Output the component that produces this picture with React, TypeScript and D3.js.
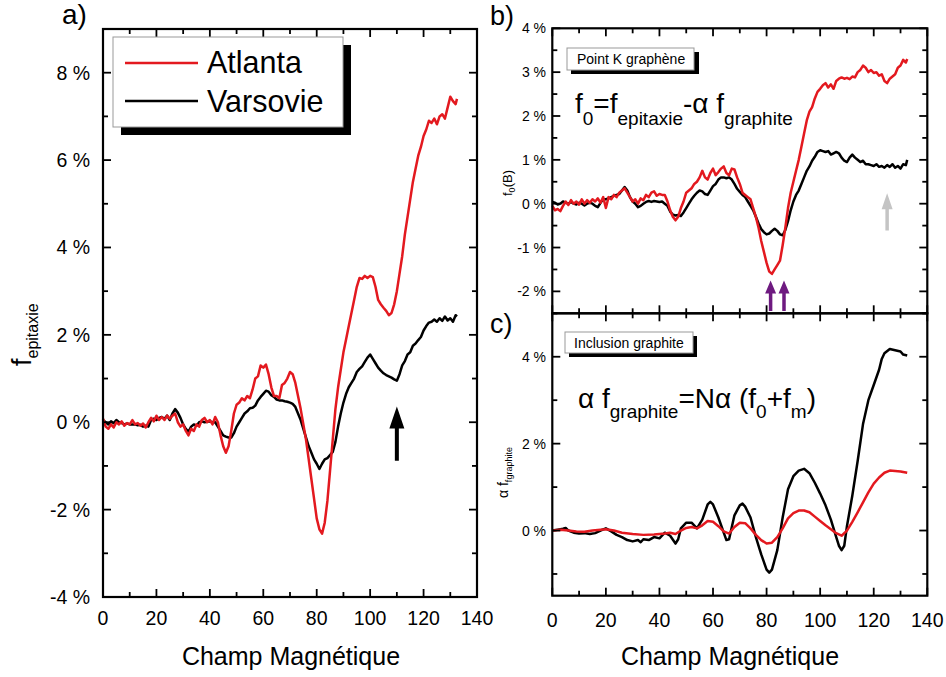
import React from 'react';
import * as d3 from 'd3';

type P = [number, number];

const xTickLabels = [0, 20, 40, 60, 80, 100, 120, 140];
const yTicksA = [-4, -2, 0, 2, 4, 6, 8];
const yTicksB = [-2, -1, 0, 1, 2, 3, 4];
const yTicksC = [0, 2, 4];

const seriesNames = ['Atlanta', 'Varsovie'];

const atlantaA: P[] = [[0,0.08],[1,-0.1],[2,-0.15],[3,-0.05],[4,-0.12],[5,0.0],[6,-0.05],[7,0.02],[8,-0.08],[9,-0.02],[10,-0.05],[11,0.05],[12,-0.05],[13,-0.02],[14,-0.08],[15,-0.03],[16,-0.12],[17,0.0],[18,0.1],[19,0.02],[20,0.15],[21,0.05],[22,0.12],[23,0.05],[24,0.15],[25,0.08],[26,0.15],[27,0.2],[28,0.0],[29,-0.1],[30,-0.05],[31,-0.2],[32,-0.3],[33,-0.15],[34,-0.2],[35,-0.05],[36,-0.1],[37,0.05],[38,0.1],[39,0.0],[40,0.05],[41,-0.05],[42,0.12],[43,0.0],[44,-0.3],[45,-0.55],[46,-0.7],[47,-0.55],[48,-0.2],[49,0.2],[50,0.4],[51,0.45],[52,0.55],[53,0.5],[54,0.6],[55,0.55],[56,0.75],[57,1.0],[58,1.05],[59,1.3],[60,1.25],[61,1.32],[62,1.1],[63,0.8],[64,0.6],[65,0.6],[66,0.55],[67,0.85],[68,0.9],[69,1.0],[70,1.15],[71,1.1],[72,0.9],[73,0.6],[74,0.3],[75,-0.05],[76,-0.4],[77,-0.85],[78,-1.3],[79,-1.75],[80,-2.2],[81,-2.45],[82,-2.55],[83,-2.3],[84,-1.8],[85,-1.1],[86,-0.4],[87,0.3],[88,0.8],[89,1.2],[90,1.6],[91,1.9],[92,2.2],[93,2.5],[94,2.8],[95,3.1],[96,3.3],[97,3.28],[98,3.35],[99,3.3],[100,3.35],[101,3.32],[102,3.1],[103,2.8],[104,2.7],[105,2.62],[106,2.55],[107,2.45],[108,2.5],[109,2.7],[110,3.0],[111,3.4],[112,3.8],[113,4.3],[114,4.7],[115,5.1],[116,5.5],[117,5.8],[118,6.1],[119,6.3],[120,6.55],[121,6.7],[122,6.9],[123,6.85],[124,6.95],[125,6.82],[126,7.0],[127,7.05],[128,6.95],[129,7.2],[130,7.45],[131,7.35],[132,7.28],[132.5,7.4]];

const varsovieA: P[] = [[0,0.05],[1,0.0],[2,-0.05],[3,0.02],[4,-0.02],[5,0.05],[6,0.0],[7,-0.02],[8,-0.05],[9,-0.03],[10,-0.05],[12,-0.05],[13,-0.07],[14,-0.06],[15,-0.1],[16,-0.08],[17,-0.1],[18,0.05],[19,0.08],[20,0.05],[21,0.1],[22,0.12],[23,0.08],[24,0.15],[25,0.05],[26,0.2],[27,0.3],[28,0.22],[29,0.1],[30,-0.05],[31,-0.15],[32,-0.22],[33,-0.1],[34,-0.05],[35,-0.08],[36,0.0],[37,0.02],[38,0.0],[40,0.02],[41,0.0],[42,0.0],[43,-0.1],[44,-0.2],[45,-0.3],[46,-0.33],[47,-0.35],[48,-0.35],[49,-0.25],[50,-0.1],[51,0.0],[52,0.1],[53,0.2],[54,0.25],[55,0.32],[56,0.33],[57,0.38],[58,0.5],[59,0.58],[60,0.65],[61,0.72],[62,0.7],[63,0.62],[64,0.58],[65,0.52],[66,0.5],[67,0.5],[68,0.48],[69,0.47],[70,0.45],[71,0.42],[72,0.35],[73,0.2],[74,0.05],[75,-0.15],[76,-0.35],[77,-0.55],[78,-0.7],[79,-0.85],[80,-0.95],[81,-1.07],[82,-0.95],[83,-0.85],[84,-0.82],[85,-0.75],[86,-0.68],[87,-0.45],[88,-0.1],[89,0.2],[90,0.45],[91,0.65],[92,0.8],[93,0.9],[94,1.0],[95,1.15],[96,1.22],[97,1.28],[98,1.38],[99,1.48],[100,1.55],[101,1.45],[102,1.35],[103,1.25],[104,1.18],[105,1.12],[106,1.08],[107,1.05],[108,1.02],[109,0.98],[110,0.95],[111,1.1],[112,1.3],[113,1.4],[114,1.55],[115,1.6],[116,1.75],[117,1.8],[118,1.88],[119,1.95],[120,2.1],[121,2.2],[122,2.28],[123,2.3],[124,2.35],[125,2.3],[126,2.38],[127,2.32],[128,2.42],[129,2.33],[130,2.38],[131,2.3],[132,2.45],[132.5,2.42]];

const atlantaB: P[] = [[0,-0.05],[1,-0.15],[2,-0.12],[3,-0.17],[4,-0.05],[5,0.05],[6,-0.03],[7,0.08],[8,0.0],[9,0.05],[10,-0.02],[11,0.1],[12,0.0],[13,0.08],[14,0.02],[15,0.1],[16,0.05],[17,0.12],[18,0.02],[19,0.15],[20,-0.1],[21,0.15],[22,0.1],[23,0.2],[24,0.15],[25,0.25],[26,0.3],[27,0.35],[28,0.25],[29,0.15],[30,0.05],[31,0.1],[32,0.0],[33,0.12],[34,0.08],[35,0.2],[36,0.15],[37,0.25],[38,0.28],[39,0.18],[40,0.22],[41,0.2],[42,0.2],[43,0.05],[44,-0.15],[45,-0.3],[46,-0.38],[47,-0.3],[48,-0.1],[49,0.05],[50,0.25],[51,0.3],[52,0.35],[53,0.45],[54,0.5],[55,0.6],[56,0.75],[57,0.6],[58,0.55],[59,0.7],[60,0.8],[61,0.65],[62,0.72],[63,0.8],[64,0.85],[65,0.7],[66,0.65],[67,0.8],[68,0.78],[69,0.6],[70,0.45],[71,0.25],[72,0.2],[73,0.15],[74,0.1],[75,-0.1],[76,-0.3],[77,-0.55],[78,-0.85],[79,-1.1],[80,-1.35],[81,-1.55],[82,-1.6],[83,-1.5],[84,-1.4],[85,-1.3],[86,-0.95],[87,-0.55],[88,-0.1],[89,0.25],[90,0.5],[91,0.75],[92,1.0],[93,1.3],[94,1.6],[95,1.9],[96,2.1],[97,2.2],[98,2.4],[99,2.55],[100,2.62],[101,2.7],[102,2.75],[103,2.65],[104,2.72],[105,2.62],[106,2.8],[107,2.85],[108,2.88],[109,2.85],[110,2.87],[111,2.84],[112,2.9],[113,2.88],[114,3.0],[115,3.05],[116,3.15],[117,3.1],[118,3.0],[119,3.05],[120,2.98],[121,3.0],[122,2.92],[123,2.95],[124,2.8],[125,2.75],[126,2.85],[127,2.9],[128,2.95],[129,3.1],[130,3.15],[131,3.28],[132,3.22],[132.5,3.3]];

const varsovieB: P[] = [[0,0.04],[1,0.02],[2,-0.02],[3,0.0],[4,0.05],[5,0.02],[6,0.0],[7,0.04],[8,0.0],[9,-0.02],[10,0.02],[11,0.0],[12,-0.04],[13,0.0],[14,0.02],[15,0.0],[16,-0.05],[17,-0.08],[18,0.02],[19,0.1],[20,0.1],[21,0.12],[22,0.15],[23,0.18],[24,0.2],[25,0.22],[26,0.3],[27,0.38],[28,0.3],[29,0.15],[30,0.05],[31,0.0],[32,-0.08],[33,-0.05],[34,0.0],[35,0.04],[36,0.06],[37,0.04],[38,0.06],[39,0.05],[40,0.04],[41,0.05],[42,0.0],[43,-0.05],[44,-0.18],[45,-0.25],[46,-0.27],[47,-0.26],[48,-0.28],[49,-0.2],[50,-0.1],[51,0.0],[52,0.1],[53,0.18],[54,0.25],[55,0.3],[56,0.28],[57,0.22],[58,0.2],[59,0.3],[60,0.4],[61,0.45],[62,0.55],[63,0.6],[64,0.6],[65,0.58],[66,0.6],[67,0.55],[68,0.45],[69,0.34],[70,0.27],[71,0.2],[72,0.15],[73,0.05],[74,-0.05],[75,-0.15],[76,-0.3],[77,-0.45],[78,-0.58],[79,-0.65],[80,-0.7],[81,-0.68],[82,-0.62],[83,-0.57],[84,-0.62],[85,-0.7],[86,-0.72],[87,-0.6],[88,-0.4],[89,-0.15],[90,0.05],[91,0.2],[92,0.3],[93,0.45],[94,0.6],[95,0.75],[96,0.85],[97,0.98],[98,1.07],[99,1.18],[100,1.22],[101,1.2],[102,1.18],[103,1.2],[104,1.12],[105,1.15],[106,1.18],[107,1.15],[108,1.05],[109,0.98],[110,0.95],[111,1.05],[112,1.12],[113,1.05],[114,1.0],[115,0.95],[116,0.98],[117,0.9],[118,0.9],[119,0.88],[120,0.86],[121,0.9],[122,0.84],[123,0.86],[124,0.82],[125,0.88],[126,0.84],[127,0.9],[128,0.82],[129,0.86],[130,0.8],[131,0.9],[132,0.88],[132.5,1.0]];

const atlantaC: P[] = [[0,0.0],[3,0.02],[6,0.0],[9,-0.02],[12,-0.03],[15,0.0],[18,0.02],[20,0.03],[23,0.0],[26,-0.05],[30,-0.08],[34,-0.1],[38,-0.09],[42,-0.07],[44,-0.05],[46,-0.08],[48,0.0],[50,0.06],[52,0.08],[54,0.05],[56,0.12],[58,0.22],[60,0.2],[62,0.1],[64,-0.02],[66,-0.07],[68,0.08],[70,0.18],[72,0.17],[74,0.05],[76,-0.1],[78,-0.22],[80,-0.3],[82,-0.28],[84,-0.15],[86,0.05],[88,0.28],[90,0.4],[92,0.46],[94,0.46],[96,0.42],[98,0.32],[100,0.22],[102,0.12],[104,0.03],[106,-0.06],[108,-0.12],[110,0.0],[112,0.2],[114,0.42],[116,0.65],[118,0.88],[120,1.08],[122,1.22],[124,1.33],[126,1.38],[128,1.37],[130,1.36],[132.5,1.33]];

const varsovieC: P[] = [[0,0.0],[2,0.02],[4,0.04],[5,0.06],[6,0.0],[8,-0.05],[10,-0.07],[12,-0.06],[14,-0.08],[16,-0.06],[18,0.0],[20,0.05],[22,-0.02],[24,-0.1],[26,-0.15],[28,-0.22],[30,-0.25],[32,-0.22],[33,-0.27],[34,-0.2],[36,-0.22],[38,-0.15],[40,-0.18],[42,-0.05],[44,-0.12],[46,-0.3],[47,-0.2],[48,0.05],[50,0.18],[52,0.18],[54,0.05],[56,0.25],[58,0.6],[59,0.66],[60,0.6],[62,0.3],[64,-0.05],[65,-0.22],[66,-0.2],[68,0.35],[70,0.58],[71,0.62],[72,0.55],[74,0.3],[76,-0.15],[78,-0.55],[80,-0.9],[81,-0.97],[82,-0.9],[84,-0.45],[86,0.3],[88,0.95],[90,1.25],[92,1.38],[94,1.42],[96,1.32],[98,1.1],[100,0.85],[102,0.58],[104,0.25],[106,-0.15],[107,-0.35],[108,-0.45],[109,-0.35],[110,0.1],[112,0.8],[114,1.6],[116,2.45],[118,3.0],[120,3.35],[122,3.7],[123,3.95],[124,4.08],[126,4.18],[128,4.15],[130,4.12],[131,4.05],[132.5,4.03]];

// arrows: [x, yTip, yTail]
const arrowA: [number, number, number] = [110, 0.36, -0.88];
const arrowsPurple: [number, number, number][] = [[81.5, -1.75, -2.45], [86.5, -1.75, -2.45]];
const arrowGray: [number, number, number] = [125, 0.24, -0.61];

const RED = '#e3191f';
const FONT = '"Liberation Sans", Arial, Helvetica, sans-serif';
const LW = 2.5;

const xA = d3.scaleLinear().domain([0, 140]).range([103, 477]);
const yA = d3.scaleLinear().domain([-4, 9]).range([597, 29]);
const xB = d3.scaleLinear().domain([0, 140]).range([552.3, 927.3]);
const yB = d3.scaleLinear().domain([-2.5, 4]).range([313.3, 28.3]);
const yC = d3.scaleLinear().domain([-1.5, 5]).range([595.7, 313.3]);

function linePath(x: any, y: any, data: P[]) {
  return d3.line<P>().x(d => x(d[0])).y(d => y(d[1])).curve(d3.curveLinear)(data) || '';
}

function Frame({ x, y }: { x: any; y: any }) {
  const [x0, x1] = x.range();
  const [y0, y1] = y.range();
  return <rect x={x0} y={y1} width={x1 - x0} height={y0 - y1} fill="none" stroke="#000" strokeWidth={2.2} />;
}

function XTicks({ x, yPos, dir, step, majorEvery }: { x: any; yPos: number; dir: number; step: number; majorEvery: number }) {
  const vals = d3.range(0, 140.001, step);
  return (
    <g>
      {vals.map(v => {
        const major = Math.abs(v % majorEvery) < 1e-6;
        const len = major ? 8 : 5;
        return <line key={v} x1={x(v)} x2={x(v)} y1={yPos} y2={yPos + dir * len} stroke="#000" strokeWidth={1.8} />;
      })}
    </g>
  );
}

function YTicks({ x, y, step, majorEvery }: { x: any; y: any; step: number; majorEvery: number }) {
  const [d0, d1] = y.domain();
  const start = Math.ceil(d0 / step) * step;
  const vals = d3.range(start, d1 + 1e-6, step);
  const [x0, x1] = x.range();
  return (
    <g>
      {vals.map(v => {
        const r = Math.abs(v / majorEvery - Math.round(v / majorEvery)) < 1e-6;
        const len = r ? 8 : 5;
        return (
          <g key={v}>
            <line x1={x0} x2={x0 + len} y1={y(v)} y2={y(v)} stroke="#000" strokeWidth={1.8} />
            <line x1={x1} x2={x1 - len} y1={y(v)} y2={y(v)} stroke="#000" strokeWidth={1.8} />
          </g>
        );
      })}
    </g>
  );
}

function Arrow({ x, y, a, color, headW, headH, shaft }: { x: any; y: any; a: [number, number, number]; color: string; headW: number; headH: number; shaft: number }) {
  const px = x(a[0]);
  const tip = y(a[1]);
  const tail = y(a[2]);
  const d = `M${px},${tip} L${px + headW / 2},${tip + headH} L${px + shaft / 2},${tip + headH} L${px + shaft / 2},${tail} L${px - shaft / 2},${tail} L${px - shaft / 2},${tip + headH} L${px - headW / 2},${tip + headH} Z`;
  return <path d={d} fill={color} />;
}

export default function App() {
  const pct = (v: number) => `${v} %`;
  return (
    <svg width={946} height={677} style={{ position: 'absolute', left: 0, top: 0, background: '#fff' }} fontFamily={FONT}>
      <rect x={0} y={0} width={946} height={677} fill="#fff" />

      {/* Panel a */}
      <path d={linePath(xA, yA, varsovieA)} fill="none" stroke="#000" strokeWidth={LW} strokeLinejoin="round" />
      <path d={linePath(xA, yA, atlantaA)} fill="none" stroke={RED} strokeWidth={LW} strokeLinejoin="round" />
      <Frame x={xA} y={yA} />
      <XTicks x={xA} yPos={597} dir={-1} step={10} majorEvery={20} />
      <XTicks x={xA} yPos={29} dir={1} step={10} majorEvery={20} />
      <YTicks x={xA} y={yA} step={1} majorEvery={2} />
      {yTicksA.map(v => (
        <text key={v} x={90} y={yA(v) + 7} fontSize={19.5} textAnchor="end">{pct(v)}</text>
      ))}
      {xTickLabels.map(v => (
        <text key={v} x={xA(v)} y={625} fontSize={19.5} textAnchor="middle">{v}</text>
      ))}
      <text x={291} y={665} fontSize={25} textAnchor="middle">Champ Magnétique</text>
      <text transform="translate(31,366) rotate(-90)" fontSize={27}>
        f<tspan fontSize={16} dy={7}>epitaxie</tspan>
      </text>
      <text x={62} y={24} fontSize={28}>a)</text>
      <Arrow x={xA} y={yA} a={arrowA} color="#000" headW={15} headH={22} shaft={4} />

      {/* legend */}
      <rect x={121} y={45} width={230} height={90} fill="#000" />
      <rect x={113} y={37} width={230} height={90} fill="#fff" stroke="#999" strokeWidth={1} />
      <line x1={125} x2={198} y1={63} y2={63} stroke={RED} strokeWidth={LW} />
      <line x1={125} x2={198} y1={101} y2={101} stroke="#000" strokeWidth={LW} />
      <text x={207} y={73} fontSize={30.5}>{seriesNames[0]}</text>
      <text x={207} y={112} fontSize={30.5}>{seriesNames[1]}</text>

      {/* Panel b */}
      <path d={linePath(xB, yB, varsovieB)} fill="none" stroke="#000" strokeWidth={LW} strokeLinejoin="round" />
      <path d={linePath(xB, yB, atlantaB)} fill="none" stroke={RED} strokeWidth={LW} strokeLinejoin="round" />
      <Frame x={xB} y={yB} />
      <XTicks x={xB} yPos={28.3} dir={1} step={10} majorEvery={20} />
      <XTicks x={xB} yPos={313.3} dir={-1} step={10} majorEvery={20} />
      <YTicks x={xB} y={yB} step={0.5} majorEvery={1} />
      {yTicksB.map(v => (
        <text key={v} x={546} y={yB(v) + 5} fontSize={14} textAnchor="end">{pct(v)}</text>
      ))}
      <text transform="translate(512,196) rotate(-90)" fontSize={13}>
        f<tspan fontSize={9} dy={3}>0</tspan><tspan dy={-3}>(B)</tspan>
      </text>
      <text x={490} y={25} fontSize={27}>b)</text>
      <rect x={571} y={52} width={128} height={22} fill="#000" />
      <rect x={567} y={48} width={127} height={22} fill="#fff" stroke="#999" strokeWidth={1} />
      <text x={577} y={64} fontSize={14}>Point K graphène</text>
      <text x={575} y={113} fontSize={28}>
        f<tspan fontSize={19} dy={12}>0</tspan><tspan dy={-12}>=f</tspan><tspan fontSize={19} dy={12}>epitaxie</tspan><tspan dy={-12}>-α f</tspan><tspan fontSize={19} dy={12}>graphite</tspan>
      </text>
      {arrowsPurple.map((a, i) => (
        <Arrow key={i} x={xB} y={yB} a={a} color="#6e1a80" headW={11} headH={13} shaft={3.5} />
      ))}
      <Arrow x={xB} y={yB} a={arrowGray} color="#c4c4c4" headW={11} headH={16} shaft={3.5} />

      {/* Panel c */}
      <path d={linePath(xB, yC, varsovieC)} fill="none" stroke="#000" strokeWidth={LW} strokeLinejoin="round" />
      <path d={linePath(xB, yC, atlantaC)} fill="none" stroke={RED} strokeWidth={LW} strokeLinejoin="round" />
      <Frame x={xB} y={yC} />
      <XTicks x={xB} yPos={313.3} dir={1} step={10} majorEvery={20} />
      <XTicks x={xB} yPos={595.7} dir={-1} step={10} majorEvery={20} />
      <YTicks x={xB} y={yC} step={1} majorEvery={2} />
      {yTicksC.map(v => (
        <text key={v} x={546} y={yC(v) + 5} fontSize={14} textAnchor="end">{pct(v)}</text>
      ))}
      {xTickLabels.map(v => (
        <text key={v} x={xB(v)} y={627} fontSize={19.5} textAnchor="middle">{v}</text>
      ))}
      <text x={730} y={665} fontSize={25} textAnchor="middle">Champ Magnétique</text>
      <text transform="translate(508,498) rotate(-90)" fontSize={14}>
        α f<tspan fontSize={9} dy={4}>fgraphite</tspan>
      </text>
      <text x={490} y={333} fontSize={27}>c)</text>
      <rect x={569} y={336} width={128} height={21} fill="#000" />
      <rect x={565} y={332} width={128} height={21} fill="#fff" stroke="#999" strokeWidth={1} />
      <text x={574} y={348} fontSize={14}>Inclusion graphite</text>
      <text x={578} y={408} fontSize={28}>
        α f<tspan fontSize={19} dy={10}>graphite</tspan><tspan dy={-10}>=Nα (f</tspan><tspan fontSize={19} dy={10}>0</tspan><tspan dy={-10}>+f</tspan><tspan fontSize={19} dy={10}>m</tspan><tspan dy={-10}>)</tspan>
      </text>
    </svg>
  );
}
